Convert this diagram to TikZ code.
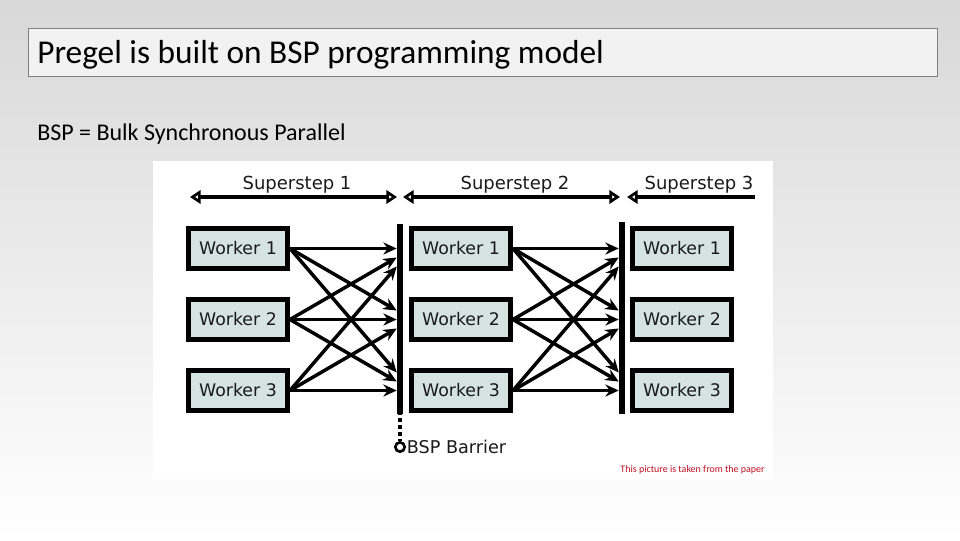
\documentclass[tikz,border=0pt]{standalone}
\usepackage{fontspec}
\setmainfont{Carlito}
\newfontfamily\figfont{DejaVu Sans}
\usetikzlibrary{arrows.meta,positioning,calc}
\definecolor{workerfill}{RGB}{214,227,227}
\definecolor{titlefill}{RGB}{242,242,242}
\definecolor{titleline}{RGB}{127,127,127}
\definecolor{slidetop}{RGB}{216,216,216}
\definecolor{figtext}{RGB}{26,26,26}
\definecolor{notered}{RGB}{192,16,32}
\tikzset{
  worker/.style={draw, line width=3.75pt, fill=workerfill, minimum width=74.25pt, minimum height=30pt, inner sep=0pt, text=figtext, font=\figfont\fontsize{13}{15}\selectfont},
  barrier/.style={fill=black, inner sep=0pt, minimum width=4.5pt},
  msg/.style={-{Stealth[length=10pt,width=9pt]}, line width=2.6pt},
  span/.style={{Triangle[open,length=8pt,width=10pt]}-{Triangle[open,length=8pt,width=10pt]}, line width=3pt},
  spanleft/.style={{Triangle[open,length=8pt,width=10pt]}-, line width=3pt},
  steplabel/.style={text=figtext, inner sep=0pt, font=\figfont\fontsize{13.5}{16}\selectfont},
}
\begin{document}
\begin{tikzpicture}[x=0.75pt,y=-0.75pt]
	% slide background and title
	\shade[top color=slidetop, bottom color=white] (0,0) rectangle (960,540);
	\useasboundingbox (0,0) rectangle (960,540);
	\draw[titleline, fill=titlefill] (28,28) rectangle (937,76);
	\node[anchor=base west, inner sep=0pt, font=\fontsize{25}{30}\selectfont] (title) at (37,63) {Pregel is built on BSP programming model};
	\node[anchor=base west, inner sep=0pt, font=\fontsize{18}{22}\selectfont] (bspdef) at (37,140) {BSP = Bulk Synchronous Parallel};
	% picture from the paper
	\fill[white] (153,161) rectangle (773,479);
	\coordinate (s1l) at (190,197); \coordinate (s1r) at (397,197);
	\coordinate (s2l) at (403,197); \coordinate (s2r) at (620,197);
	\coordinate (s3l) at (627,197); \coordinate (s3r) at (755,197);
	\draw[span] (s1l) -- (s1r);
	\draw[span] (s2l) -- (s2r);
	\draw[spanleft] (s3l) -- (s3r);
	\node[steplabel] (t1) at (297,185) {Superstep 1};
	\node[steplabel] (t2) at (515,185) {Superstep 2};
	\node[steplabel] (t3) at (699,185) {Superstep 3};
	% workers
	\node[worker] (a1) at (238,248.5) {Worker 1};
	\node[worker] (a2) at (238,319.5) {Worker 2};
	\node[worker] (a3) at (238,390.5) {Worker 3};
	\node[worker] (b1) at (461,248.5) {Worker 1};
	\node[worker] (b2) at (461,319.5) {Worker 2};
	\node[worker] (b3) at (461,390.5) {Worker 3};
	\node[worker] (c1) at (682,248.5) {Worker 1};
	\node[worker] (c2) at (682,319.5) {Worker 2};
	\node[worker] (c3) at (682,390.5) {Worker 3};
	% barriers
	\node[barrier, minimum height=142.5pt] (bar1) at (400,319) {};
	\node[barrier, minimum height=144pt] (bar2) at (622,318) {};
	\foreach \i in {1,2,3}
		\foreach \j in {1,2,3}
		{
			\pgfmathsetmacro\off{(\i-\j)*9}
			\draw[msg] (a\i.east) -- ($(bar1.west |- a\j.east)+(0,\off)$);
			\draw[msg] (b\i.east) -- ($(bar2.west |- b\j.east)+(0,\off)$);
		}
	% barrier legend
	\node[circle, draw, line width=2pt, fill=white, minimum size=7pt, inner sep=0pt] (bb) at (400,447) {};
	\draw[line width=3pt, dash pattern=on 3pt off 2.25pt, dash phase=-3pt] (bar1.south) -- (bb.north);
	\node[right=0.5pt of bb, steplabel, font=\figfont\fontsize{13.2}{16}\selectfont] (bbl) {BSP Barrier};
	\node[anchor=base east, inner sep=0pt, text=notered, font=\fontsize{7.5}{9}\selectfont] (note) at (765,472) {This picture is taken from the paper};
\end{tikzpicture}
\end{document}
